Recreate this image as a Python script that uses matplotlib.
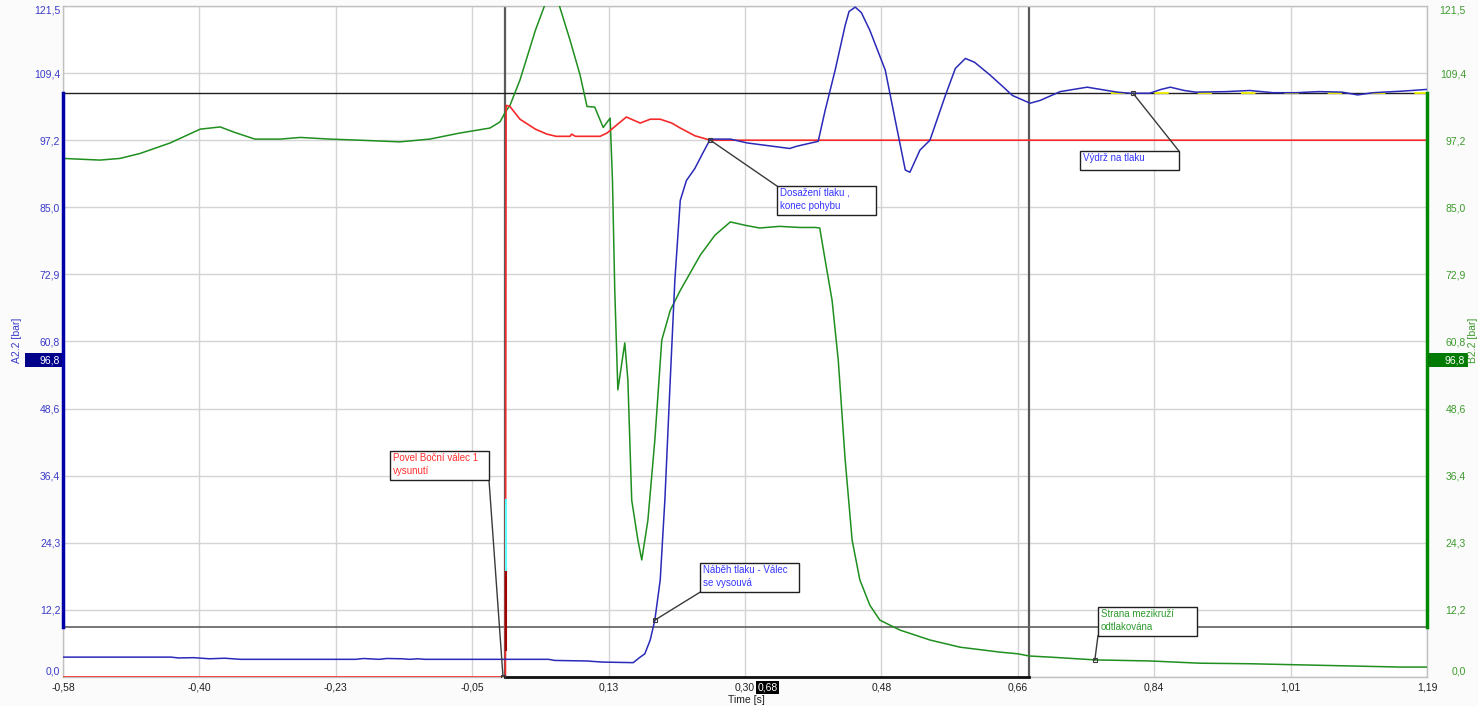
import matplotlib
matplotlib.use("Agg")
import matplotlib.pyplot as plt
from matplotlib.patches import Rectangle
from matplotlib.transforms import blended_transform_factory as btf

plt.rcParams['font.family'] = ['Liberation Sans', 'DejaVu Sans']

# ---------------- data ----------------
x_ticks = [-0.58, -0.403, -0.226, -0.049, 0.128, 0.305, 0.482, 0.659, 0.836, 1.013, 1.19]
x_tick_labels = ["-0,58", "-0,40", "-0,23", "-0,05", "0,13", "0,30", "0,48", "0,66", "0,84", "1,01", "1,19"]
y_ticks = [0.0, 12.15, 24.3, 36.45, 48.6, 60.75, 72.9, 85.05, 97.2, 109.35, 121.5]
y_tick_labels = ["0,0", "12,2", "24,3", "36,4", "48,6", "60,8", "72,9", "85,0", "97,2", "109,4", "121,5"]

# A2.2 pressure (blue)
a22_t = [-0.58, -0.44, -0.43, -0.41, -0.39, -0.37, -0.35, -0.33, -0.20, -0.19, -0.17, -0.16,
         -0.14, -0.13, -0.12, -0.11, 0.0, 0.05, 0.058, 0.10, 0.12, 0.16, 0.168, 0.175, 0.182,
         0.188, 0.195, 0.201, 0.208, 0.214, 0.221, 0.229, 0.240, 0.250, 0.260, 0.286, 0.308,
         0.363, 0.372, 0.400, 0.409, 0.422, 0.435, 0.440, 0.448, 0.456, 0.467, 0.487, 0.500,
         0.513, 0.519, 0.532, 0.545, 0.565, 0.578, 0.591, 0.603, 0.623, 0.642, 0.652, 0.675,
         0.688, 0.714, 0.749, 0.788, 0.805, 0.83, 0.845, 0.857, 0.875, 0.89, 0.93, 0.96, 0.99,
         1.02, 1.05, 1.08, 1.10, 1.12, 1.16, 1.19]
a22_v = [3.6, 3.6, 3.45, 3.5, 3.3, 3.4, 3.2, 3.2, 3.2, 3.35, 3.2, 3.35,
         3.3, 3.2, 3.3, 3.2, 3.2, 3.2, 3.0, 2.9, 2.7, 2.6, 3.5, 4.2, 6.7,
         10.3, 17.6, 32.0, 53.8, 71.9, 86.3, 89.9, 92.1, 94.8, 97.4, 97.4, 96.7,
         95.7, 96.1, 97.0, 102.6, 109.9, 118.0, 120.5, 121.3, 120.3, 117.1, 109.9, 100.8,
         91.8, 91.4, 95.4, 97.2, 105.3, 110.2, 112.0, 111.3, 109.0, 106.6, 105.3, 103.9,
         104.4, 106.0, 106.8, 105.9, 105.7, 105.7, 106.4, 106.8, 106.2, 105.9, 106.0, 106.2, 105.8,
         105.8, 106.0, 105.9, 105.4, 105.8, 106.1, 106.4]

# B2.2 pressure (green)
b22_t = [-0.58, -0.532, -0.506, -0.480, -0.441, -0.402, -0.376, -0.357, -0.331, -0.298, -0.272,
         -0.234, -0.195, -0.143, -0.104, -0.065, -0.026, -0.013, -0.006, 0.0, 0.013, 0.033,
         0.045, 0.055, 0.064, 0.078, 0.091, 0.100, 0.110, 0.121, 0.130, 0.133, 0.136, 0.140,
         0.149, 0.153, 0.158, 0.166, 0.171, 0.179, 0.188, 0.197, 0.208, 0.221, 0.247, 0.266,
         0.286, 0.305, 0.324, 0.350, 0.376, 0.396, 0.402, 0.409, 0.418, 0.426, 0.435, 0.444,
         0.454, 0.467, 0.480, 0.506, 0.545, 0.584, 0.636, 0.659, 0.674, 0.701, 0.759, 0.831,
         0.895, 0.960, 1.025, 1.090, 1.155, 1.19]
b22_v = [93.9, 93.6, 93.9, 94.8, 96.7, 99.2, 99.6, 98.6, 97.4, 97.4, 97.7,
         97.4, 97.2, 96.9, 97.4, 98.5, 99.4, 100.5, 102.3, 103.5, 108.1, 117.1,
         121.6, 126.0, 121.6, 115.3, 109.0, 103.3, 103.2, 99.5, 101.2, 90.0, 70.0, 52.0,
         60.5, 53.8, 32.0, 24.8, 21.2, 28.4, 42.9, 61.0, 66.4, 70.0, 76.4, 80.0,
         82.4, 81.8, 81.3, 81.6, 81.4, 81.4, 81.3, 75.5, 68.2, 57.4, 39.3, 24.8,
         17.6, 13.0, 10.3, 8.5, 6.7, 5.4, 4.5, 4.2, 3.8, 3.6, 3.1, 2.9,
         2.5, 2.4, 2.2, 2.0, 1.8, 1.8]

# Command signal (red)
cmd_t = [-0.58, -0.006, -0.005, 0.0, 0.013, 0.033, 0.048, 0.060, 0.078, 0.080, 0.085, 0.117,
         0.126, 0.151, 0.169, 0.182, 0.195, 0.210, 0.221, 0.240, 0.260, 1.19]
cmd_v = [0.0, 0.0, 103.5, 103.3, 101.0, 99.2, 98.3, 97.9, 97.9, 98.3, 97.9, 97.9,
         98.5, 101.4, 100.3, 101.0, 101.0, 100.3, 99.4, 98.0, 97.2, 97.2]

# highlighted pieces of the command edge
edge_cyan_t = [-0.005, -0.005]
edge_cyan_v = [19.4, 32.0]
edge_dark_t = [-0.005, -0.005]
edge_dark_v = [4.9, 19.4]

# cursors
cursor_t = [-0.006, 0.674]
cursor_v = [9.0, 105.8]

# annotations
ann_texts = ["Povel Boční válec 1\nvysunutí", "Náběh tlaku - Válec\nse vysouvá",
             "Dosažení tlaku ,\nkonec pohybu", "Výdrž na tlaku", "Strana mezikruží\nodtlakována"]
ann_point_t = [-0.009, 0.188, 0.260, 0.8085, 0.759]
ann_point_v = [0.0, 10.3, 97.2, 105.7, 3.1]
ann_box_t = [-0.1557, 0.2466, 0.3465, 0.7398, 0.763]
ann_box_v = [40.9, 20.6, 88.9, 95.2, 12.7]
ann_lines = [2, 2, 2, 1, 2]
ann_corner = ["br", "bl", "tl", "tr", "bl"]
ann_colors = ["#ff3030", "#3535ff", "#3535ff", "#3535ff", "#2e9a2e"]

# ---------------- style ----------------
BLUE = "#2a2ab8"
GREEN = "#1f8f1f"
RED = "#f52a2a"
GRID = "#d4d4d4"
LBLUE = "#3a3ac8"
LGREEN = "#3c9a2c"

fig = plt.figure(figsize=(14.78, 7.06), dpi=100, facecolor="#fbfbfb")
ax = fig.add_axes([63 / 1478, 1 - 677 / 706, (1427 - 63) / 1478, (677 - 6) / 706])
ax.set_facecolor("white")
ax.set_xlim(x_ticks[0], x_ticks[-1])
ax.set_ylim(y_ticks[0], y_ticks[-1])

ax.set_xticks(x_ticks)
ax.set_xticklabels(x_tick_labels, fontsize=7.5, color="#202020")
ax.set_yticks(y_ticks)
ax.set_yticklabels(y_tick_labels, fontsize=7.5, color=LBLUE)
ax.tick_params(axis="both", length=0)
ax.tick_params(axis="y", pad=2)
ax.tick_params(axis="x", pad=4)
yl = ax.get_yticklabels()
yl[0].set_verticalalignment("bottom")
yl[-1].set_verticalalignment("top")
ax.grid(True, color=GRID, lw=1)
ax.set_axisbelow(True)
for s in ax.spines.values():
    s.set_color("#c0c0c0")
    s.set_linewidth(1)

ax2 = ax.twinx()
ax2.set_ylim(y_ticks[0], y_ticks[-1])
ax2.set_yticks(y_ticks)
ax2.set_yticklabels(y_tick_labels, fontsize=7.5, color=LGREEN, ha="right")
ax2.tick_params(axis="y", length=0, pad=28)
yl2 = ax2.get_yticklabels()
yl2[0].set_verticalalignment("bottom")
yl2[-1].set_verticalalignment("top")
for s in ax2.spines.values():
    s.set_visible(False)
ax2.set_zorder(0)

# cursor box
ax.axvline(cursor_t[0], color="#5a5a5a", lw=1.6, zorder=2)
ax.axvline(cursor_t[1], color="#5a5a5a", lw=1.6, zorder=2)
ax.axhline(cursor_v[1], color="#202020", lw=1.0, zorder=2)
ax.axhline(cursor_v[0], color="#606060", lw=1.2, zorder=2)
ax.hlines(cursor_v[1], 0.78, x_ticks[-1], color="#f5f500", lw=1.3, linestyles=(0, (8, 16)), zorder=3)

# data lines
ax.plot(b22_t, b22_v, color=GREEN, lw=1.1, zorder=4)
ax.plot(cmd_t, cmd_v, color=RED, lw=1.2, zorder=5)
ax.plot(edge_dark_t, edge_dark_v, color="#a00000", lw=1.5, zorder=6)
ax.plot(edge_cyan_t, edge_cyan_v, color="#60ffff", lw=1.5, zorder=6)
ax.plot(a22_t, a22_v, color=BLUE, lw=1.1, zorder=5)

# colored axis segments marking cursor range
tr_l = btf(ax.transAxes, ax.transData)
ax.plot([0, 0], cursor_v, color="#0000a8", lw=2.5, transform=tr_l, clip_on=False, zorder=7)
ax.plot([1, 1], cursor_v, color="#008800", lw=2.5, transform=tr_l, clip_on=False, zorder=7)
tr_b = btf(ax.transData, ax.transAxes)
ax.plot(cursor_t, [0, 0], color="#101010", lw=2.0, transform=tr_b, clip_on=False, zorder=7)

# annotations
BOX_W = 0.1285
for txt, pt, pv, bt, bv, nl, cn, col in zip(ann_texts, ann_point_t, ann_point_v, ann_box_t,
                                            ann_box_v, ann_lines, ann_corner, ann_colors):
    h = 3.44 if nl == 1 else 5.25
    cx = bt + BOX_W if cn[1] == "r" else bt
    cy = bv - h if cn[0] == "b" else bv
    ax.plot([cx, pt], [cy, pv], color="#3a3a3a", lw=1.0, zorder=8)
    ax.plot([pt], [pv], marker="s", ms=3, mfc="none", mec="#3a3a3a", mew=0.8, zorder=9)
    ax.add_patch(Rectangle((bt, bv - h), BOX_W, h, facecolor="white", edgecolor="#202020",
                           lw=1.0, zorder=10))
    ax.text(bt + 0.004, bv - 0.35, txt, color=col, fontsize=7, ha="left", va="top",
            linespacing=1.35, zorder=11)

# cursor difference labels
mid_v = (cursor_v[0] + cursor_v[1]) / 2
dv = f"{cursor_v[1] - cursor_v[0]:.1f}".replace(".", ",")
dt = f"{cursor_t[1] - cursor_t[0]:.2f}".replace(".", ",")
tr_fl = btf(fig.transFigure, ax.transData)
fig.add_artist(Rectangle((25 / 1478, mid_v - 1.2), 37 / 1478, 2.4, transform=tr_fl,
                         facecolor="#00008b", edgecolor="none"))
fig.text(60 / 1478, mid_v, dv, transform=tr_fl, color="white", fontsize=7.5, ha="right", va="center")
fig.add_artist(Rectangle((1428 / 1478, mid_v - 1.2), 40 / 1478, 2.4, transform=tr_fl,
                         facecolor="#007a00", edgecolor="none"))
fig.text(1465 / 1478, mid_v, dv, transform=tr_fl, color="white", fontsize=7.5, ha="right", va="center")
tr_bf = btf(ax.transData, fig.transFigure)
fig.text((cursor_t[0] + cursor_t[1]) / 2, 1 - 687.5 / 706, dt, transform=tr_bf, color="white",
         fontsize=7.5, ha="center", va="center",
         bbox=dict(boxstyle="square,pad=0.15", facecolor="black", edgecolor="none"))

# axis titles
fig.text(17 / 1478, 1 - 340 / 706, "A2.2 [bar]", rotation=90, color=LBLUE, fontsize=7.5,
         ha="center", va="center")
fig.text(1473 / 1478, 1 - 340 / 706, "B2.2 [bar]", rotation=90, color=LGREEN, fontsize=7.5,
         ha="center", va="center")
fig.text(746 / 1478, 1 - 700 / 706, "Time [s]", color="#202020", fontsize=7.5,
         ha="center", va="center")

fig.savefig("out.png", dpi=100, facecolor=fig.get_facecolor())
